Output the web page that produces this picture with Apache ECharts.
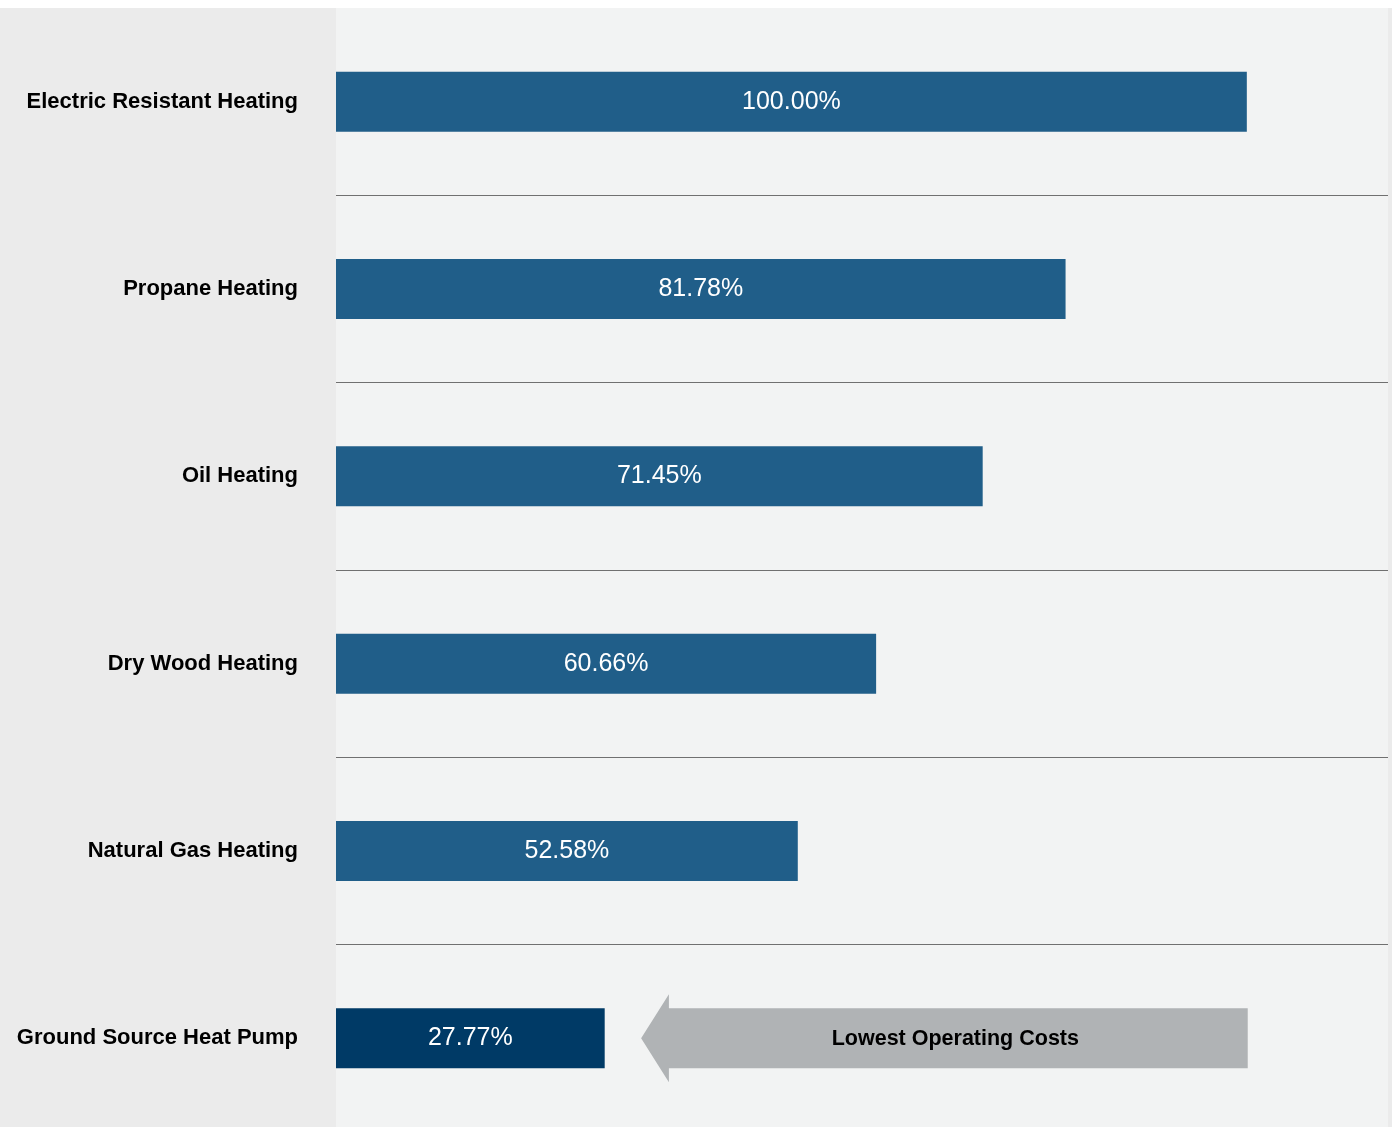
<!DOCTYPE html>
<html lang="en">
<head>
    <meta charset="UTF-8" />
    <title>Heating operating costs</title>
    <script src="https://cdn.jsdelivr.net/npm/echarts@6/dist/echarts.min.js"></script>
    <style>
        html, body { margin: 0; padding: 0; background: #ffffff; overflow: hidden; }
        /* a little taller than the window: the last band runs past the bottom edge */
        #chart { width: 1392px; height: 1132px; }
    </style>
</head>
<body>
    <div id="chart"></div>
    <script type="text/javascript">
        // categories, top to bottom
        const categories = ['Electric Resistant Heating', 'Propane Heating', 'Oil Heating',
            'Dry Wood Heating', 'Natural Gas Heating', 'Ground Source Heat Pump'];
        // bar lengths as drawn (percent of electric resistant)
        const barLengths = [100, 80.1, 71.0, 59.3, 50.7, 29.5];
        // printed labels
        const barLabels = ['100.00%', '81.78%', '71.45%', '60.66%', '52.58%', '27.77%'];
        // arrow annotation: tip, shoulder, end (x values) and row index
        const arrowData = [[33.5, 36.55, 100.1, 5]];
        const arrowText = 'Lowest Operating Costs';

        const chart = echarts.init(document.getElementById('chart'), null, { renderer: 'canvas' });

        const option = {
            backgroundColor: '#ffffff',
            animation: false,
            graphic: [
                { type: 'rect', z: -10, shape: { x: 0, y: 8, width: 336, height: 1124 }, style: { fill: '#ebebeb' } },
                { type: 'rect', z: -10, shape: { x: 336, y: 8, width: 1052, height: 1124 }, style: { fill: '#f2f3f3' } },
                { type: 'rect', z: -10, shape: { x: 1388, y: 8, width: 4, height: 1124 }, style: { fill: '#ebebeb' } }
            ],
            grid: { left: 336, right: 4, top: 8, bottom: 0, containLabel: false },
            xAxis: {
                type: 'value', min: 0, max: 115.5,
                show: false, splitLine: { show: false }
            },
            yAxis: {
                type: 'category', inverse: true, data: categories,
                axisLine: { show: false }, axisTick: { show: false },
                axisLabel: {
                    margin: 38, color: '#000000', fontSize: 22, fontWeight: 'bold',
                    fontFamily: 'Liberation Sans'
                },
                splitLine: {
                    show: true,
                    interval: function (i) { return i > 0; },
                    lineStyle: { color: '#707070', width: 1 }
                }
            },
            series: [
                {
                    type: 'bar',
                    barWidth: 60,
                    data: barLengths.map(function (v, i) {
                        return {
                            value: v,
                            itemStyle: { color: i === barLengths.length - 1 ? '#003a66' : '#205e89' }
                        };
                    }),
                    label: {
                        show: true, position: 'inside', color: '#ffffff',
                        fontSize: 25, fontFamily: 'Liberation Sans',
                        formatter: function (p) { return barLabels[p.dataIndex]; }
                    }
                },
                {
                    type: 'custom',
                    encode: { x: [0, 1, 2], y: 3 },
                    data: arrowData,
                    renderItem: function (params, api) {
                        const tip = api.coord([api.value(0), api.value(3)]);
                        const sh = api.coord([api.value(1), api.value(3)]);
                        const end = api.coord([api.value(2), api.value(3)]);
                        const y = tip[1];
                        return {
                            type: 'group',
                            children: [
                                {
                                    type: 'polygon',
                                    shape: {
                                        points: [[tip[0], y], [sh[0], y - 44], [sh[0], y - 30], [end[0], y - 30],
                                            [end[0], y + 30], [sh[0], y + 30], [sh[0], y + 44]]
                                    },
                                    style: { fill: '#b0b3b5' }
                                },
                                {
                                    type: 'text',
                                    style: {
                                        text: arrowText, x: (sh[0] + end[0]) / 2 - 3, y: y + 1,
                                        align: 'center', verticalAlign: 'middle',
                                        fill: '#000000', fontSize: 21.5, fontWeight: 'bold',
                                        fontFamily: 'Liberation Sans'
                                    }
                                }
                            ]
                        };
                    }
                }
            ]
        };
        chart.setOption(option);
    </script>
</body>
</html>
